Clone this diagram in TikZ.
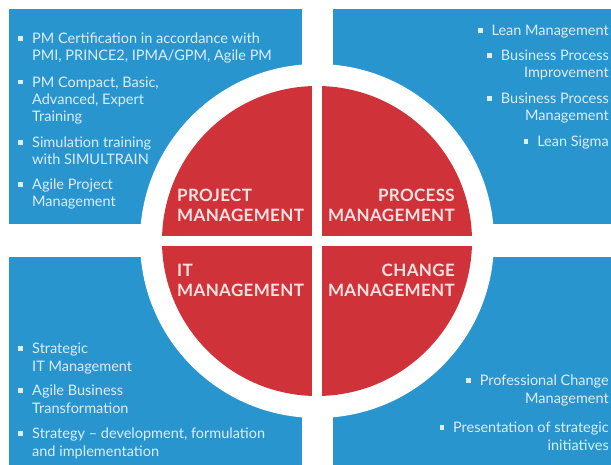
\documentclass[tikz,border=0pt]{standalone}
\usepackage{fontspec}
\setmainfont{Lato}
\definecolor{bl}{HTML}{2995CE}
\definecolor{rd}{HTML}{CF3339}
\definecolor{txt}{HTML}{DCEDF8}
\definecolor{labtxt}{HTML}{F8E2E2}
\newcommand\bul{\textcolor{txt}{\rule[3pt]{4.5pt}{4.5pt}}}
\newcommand\lbul{\llap{\bul\hspace{9.5pt}}}
\begin{document}
\begin{tikzpicture}[x=1pt,y=-1pt,
  item/.style={inner sep=0pt, text=txt, font=\fontsize{14.5}{17.4}\selectfont},
  itemL/.style={item, align=left, anchor=base west},
  itemR/.style={item, align=right, anchor=base east},
  lab/.style={inner sep=0pt, text=labtxt, font=\fontsize{17}{20}\selectfont\bfseries\addfontfeatures{LetterSpace=2}},
  labL/.style={lab, align=left, anchor=base west},
  labR/.style={lab, align=right, anchor=base east},
]
\useasboundingbox (0,0) rectangle (611,465);
% blue panels
\fill[bl] (9,9) rectangle (302,224);
\fill[bl] (333,9) rectangle (611,224);
\fill[bl] (9,257) rectangle (302,465);
\fill[bl] (333,257) rectangle (611,465);
% ring and circle
\fill[white] (317,241) circle (177);
\fill[rd] (317,241) circle (155);
\fill[white] (312,60) rectangle (322,422);
\fill[white] (136,236) rectangle (498,246);
% labels (anchored at the baseline of the last line)
\node[labL] (pm) at (177,222) {PROJECT\\MANAGEMENT};
\node[labR] (prm) at (455,222) {PROCESS\\MANAGEMENT};
\node[labL] (itm) at (177,297) {IT\\MANAGEMENT};
\node[labR] (chm) at (455,297) {CHANGE\\MANAGEMENT};
% top left
\node[itemL] (tl1) at (32,61) {\lbul PM Certification in accordance with\\PMI, PRINCE2, IPMA/GPM, Agile PM};
\node[itemL] (tl2) at (32,122) {\lbul PM Compact, Basic,\\Advanced, Expert\\Training};
\node[itemL] (tl3) at (32,165) {\lbul Simulation training\\with SIMULTRAIN};
\node[itemL] (tl4) at (32,207) {\lbul Agile Project\\Management};
% top right
\node[itemR] (tr1) at (609,36) {\bul\hspace{9pt}Lean Management};
\node[itemR] (tr2) at (609,78) {\bul\hspace{9pt}Business Process\\Improvement};
\node[itemR] (tr3) at (609,121) {\bul\hspace{9pt}Business Process\\Management};
\node[itemR] (tr4) at (609,147) {\bul\hspace{9pt}Lean Sigma};
% bottom left
\node[itemL] (bl1) at (32,371) {\lbul Strategic\\IT Management};
\node[itemL] (bl2) at (32,413) {\lbul Agile Business\\Transformation};
\node[itemL] (bl3) at (32,456) {\lbul Strategy -- development, formulation\\and implementation};
% bottom right
\node[itemR] (br1) at (609,403) {\bul\hspace{9pt}Professional Change\\Management};
\node[itemR] (br2) at (609,450) {\bul\hspace{9pt}Presentation of strategic\\initiatives};
\end{tikzpicture}
\end{document}
